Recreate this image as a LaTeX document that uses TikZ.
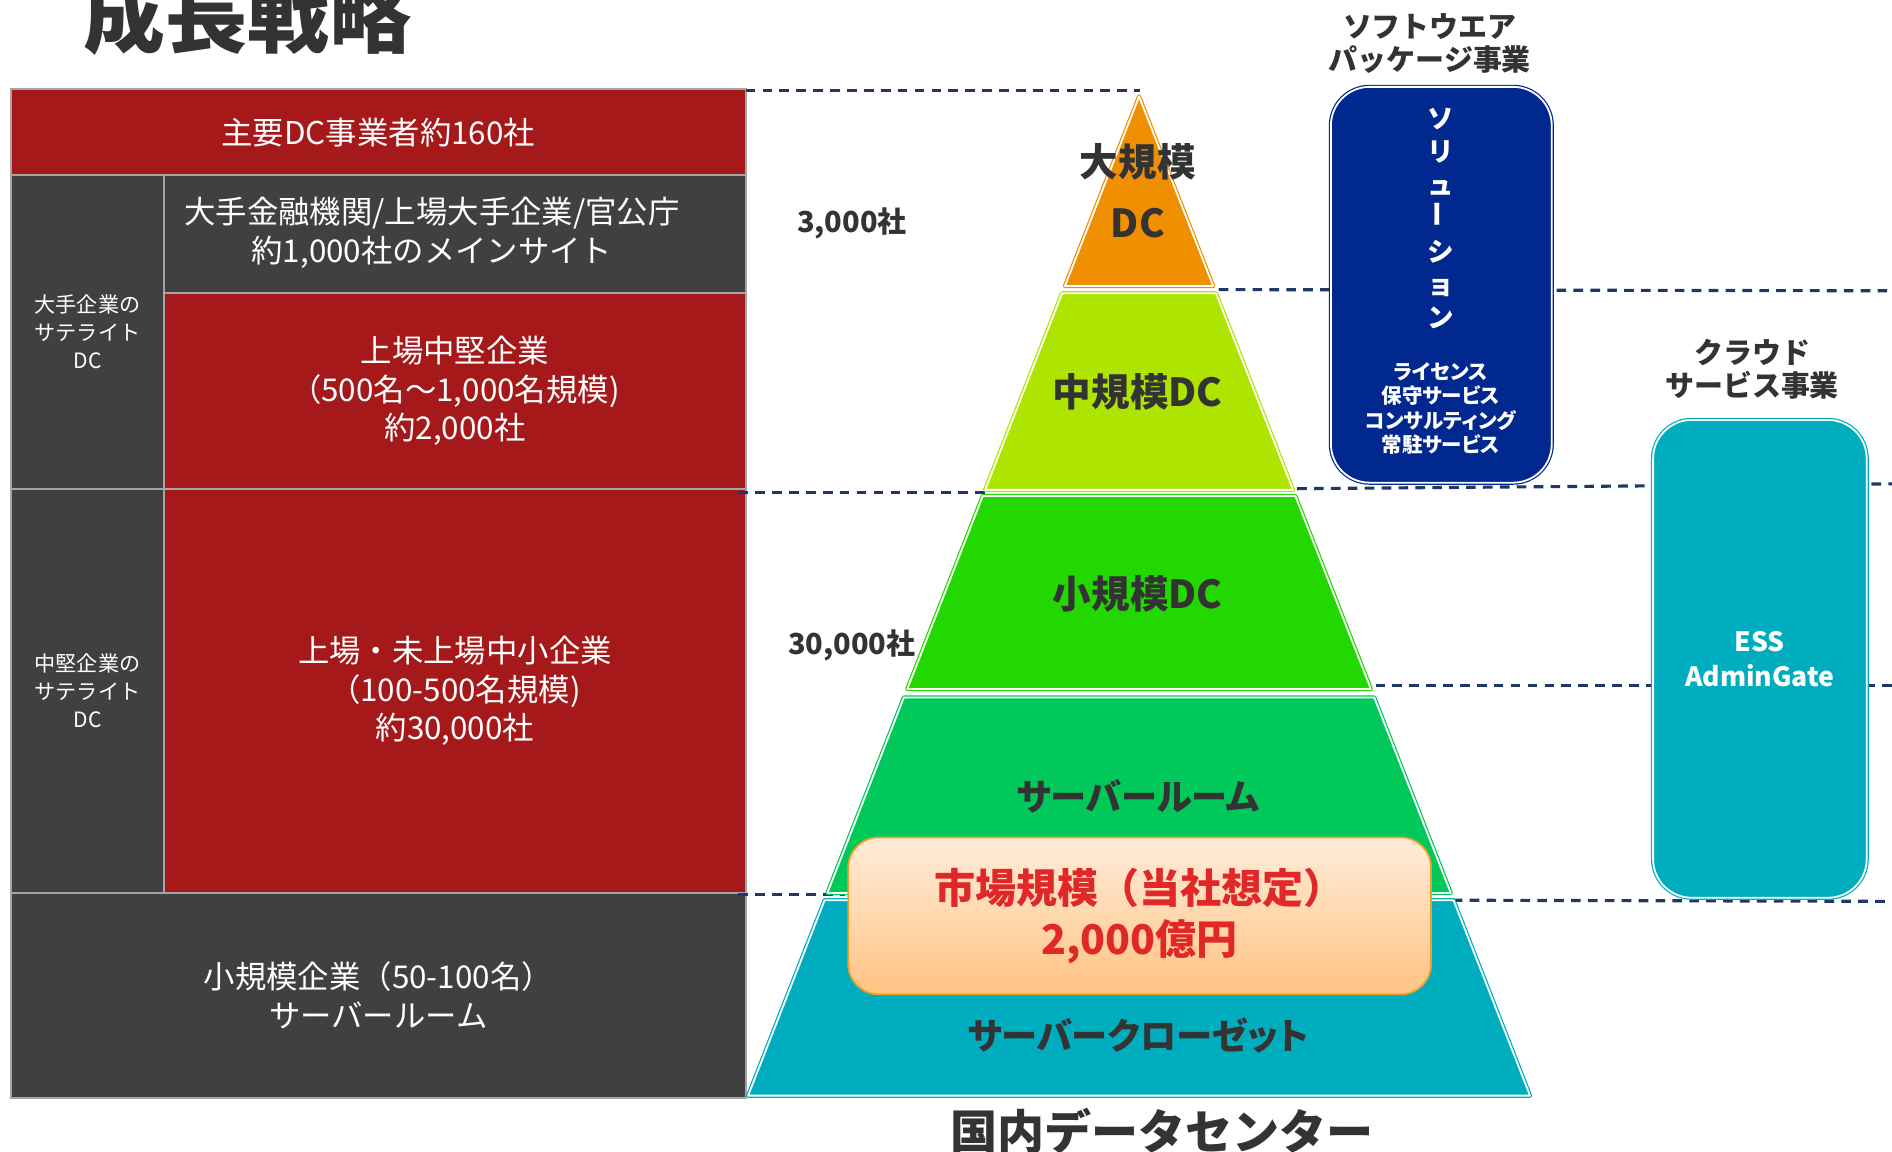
\documentclass[tikz,border=0pt]{standalone}
\usepackage{fontspec}
\usepackage{graphicx}
\setmainfont{Noto Sans CJK JP}
\newfontfamily\jpprop{Noto Sans CJK JP}[RawFeature=+palt]
\definecolor{cellred}{RGB}{166,25,27}
\definecolor{celldark}{RGB}{64,64,64}
\definecolor{cellline}{RGB}{165,165,165}
\definecolor{ink}{RGB}{51,51,51}
\definecolor{navy}{RGB}{31,56,100}
\definecolor{tierorange}{RGB}{240,144,0}
\definecolor{tierlime}{RGB}{174,229,0}
\definecolor{tiergreen}{RGB}{34,216,0}
\definecolor{tiermint}{RGB}{0,200,90}
\definecolor{tierteal}{RGB}{0,173,190}
\definecolor{solblue}{RGB}{0,40,143}
\definecolor{mktred}{RGB}{224,40,40}
\definecolor{mktline}{RGB}{240,160,40}
\usetikzlibrary{positioning}

\begin{document}
\begin{tikzpicture}[x=1pt, y=-1pt,
  cell/.style={draw=cellline, line width=1.5pt, text=white, align=center, inner sep=0pt,
    font=\fontsize{26pt}{32pt}\selectfont},
  sidecell/.style={cell, font=\fontsize{17.5pt}{23pt}\selectfont},
  tier/.style={draw=#1, fill=#1, double=white, double distance=1.5pt, line width=1pt, line join=round},
  tierlabel/.style={text=ink, align=center, font=\bfseries\fontsize{32pt}{50pt}\selectfont},
  guide/.style={draw=navy, line width=2.6pt, dash pattern=on 8pt off 6pt},
  bizbox/.style={draw=#1, fill=#1, double=white, double distance=1.5pt, line width=1pt,
    rounded corners=32pt, text=white, align=center},
  head/.style={text=ink, align=center, font=\bfseries\fontsize{24pt}{28pt}\selectfont},
  count/.style={text=ink, font=\bfseries\fontsize{24pt}{28pt}\selectfont}]
\useasboundingbox (0,0) rectangle (1568,954);

\node[text=ink, font=\bfseries\fontsize{68pt}{70pt}\selectfont] (title) at (205,13) {成長戦略};

\node[cell, fill=cellred, minimum width=609pt, minimum height=71pt] (c1) at (313.5,109.5) {主要DC事業者約160社};
\node[sidecell, fill=celldark, minimum width=127pt, minimum height=260pt] (l1) at (72.5,275) {大手企業の\\サテライト\\DC};
\node[cell, fill=celldark, minimum width=482pt, minimum height=98pt] (c2) at (377,194) {};
\node[cell, draw=none] (c2t) at (358,193) {大手金融機関/上場大手企業/官公庁\\約1,000社のメインサイト};
\node[cell, fill=cellred, minimum width=482pt, minimum height=162pt] (c3) at (377,324) {上場中堅企業\\（500名～1,000名規模)\\約2,000社};
\node[sidecell, fill=celldark, minimum width=127pt, minimum height=335pt] (l2) at (72.5,572.5) {中堅企業の\\サテライト\\DC};
\node[cell, fill=cellred, minimum width=482pt, minimum height=335pt] (c4) at (377,572.5) {上場・未上場中小企業\\（100-500名規模)\\約30,000社};
\node[cell, fill=celldark, minimum width=609pt, minimum height=170pt] (c5) at (313.5,825) {小規模企業（50-100名）\\サーバールーム};

\coordinate (g0a) at (618,75); \coordinate (g0b) at (945,75);
\coordinate (g1a) at (1010,240); \coordinate (g1b) at (1568,241);
\coordinate (g2a) at (612,408); \coordinate (g2b) at (818,408);
\coordinate (g2c) at (1075,405); \coordinate (g2d) at (1568,401);
\coordinate (g3a) at (1140,568); \coordinate (g3b) at (1568,568);
\coordinate (g4a) at (612,741); \coordinate (g4b) at (700,741);
\coordinate (g4c) at (1190,746); \coordinate (g4d) at (1568,747);
\draw[guide] (g0a) -- (g0b);
\draw[guide] (g1a) -- (g1b);
\draw[guide] (g2a) -- (g2b);
\draw[guide] (g2c) -- (g2d);
\draw[guide] (g3a) -- (g3b);
\draw[guide] (g4a) -- (g4b);
\draw[guide] (g4c) -- (g4d);

\draw[tier=tierorange] (944,80) -- (1005.4,237) -- (882.6,237) -- cycle;
\draw[tier=tierlime] (880.2,243) -- (1007.8,243) -- (1071.6,406) -- (816.4,406) -- cycle;
\draw[tier=tiergreen] (814.5,411) -- (1073.5,411) -- (1136.1,571) -- (751.9,571) -- cycle;
\draw[tier=tiermint] (749.1,578) -- (1138.9,578) -- (1202.3,740) -- (685.7,740) -- cycle;
\draw[tier=tierteal] (683.4,746) -- (1204.6,746) -- (1268,908) -- (620,908) -- cycle;

\node[tierlabel] (large) at (943,158) {大規模\\DC};
\node[tierlabel] (middle) at (943,325) {中規模DC};
\node[tierlabel] (small) at (943,492) {小規模DC};
\node[tierlabel, font=\jpprop\bfseries\fontsize{30pt}{40pt}\selectfont] (room) at (943,660) {サーバールーム};
\node[tierlabel, font=\jpprop\bfseries\fontsize{30pt}{40pt}\selectfont] (closet) at (943,858) {サーバークローゼット};

\node[draw=mktline, line width=1.5pt, rounded corners=25pt, top color={rgb,255:red,255;green,236;blue,218},
  bottom color={rgb,255:red,255;green,195;blue,130}, minimum width=483pt, minimum height=130pt,
  text=mktred, align=center, font=\bfseries\fontsize{34pt}{42pt}\selectfont] (market) at (944.5,759) {市場規模（当社想定）\\2,000億円};

\node[count] (n3k) at (706,185) {3,000社};
\node[count] (n30k) at (706,535) {30,000社};
\node[text=ink, font=\bfseries\fontsize{39pt}{42pt}\selectfont] (domestic) at (963,937) {国内データセンター};

\node[head] (swhead) at (1185,36) {ソフトウエア\\パッケージ事業};
\node[bizbox=solblue, minimum width=183pt, minimum height=328pt] (sol) at (1194.5,236) {};
\node[text=white, align=center, font=\bfseries\fontsize{22pt}{27.5pt}\selectfont] (solv) at (1194,181)
  {ソ\\リ\\ュ\\\rotatebox{90}{ー}\\シ\\ョ\\ン};
\node[text=white, align=center, font=\jpprop\bfseries\fontsize{17pt}{20.3pt}\selectfont] (sollist) at (1194,338.5)
  {ライセンス\\保守サービス\\コンサルティング\\常駐サービス};

\node[head] (clhead) at (1452,306) {クラウド\\サービス事業};
\node[bizbox=tierteal, minimum width=177pt, minimum height=396pt,
  font=\bfseries\fontsize{22pt}{29pt}\selectfont] (ess) at (1458.5,546) {ESS\\AdminGate};
\end{tikzpicture}
\end{document}
